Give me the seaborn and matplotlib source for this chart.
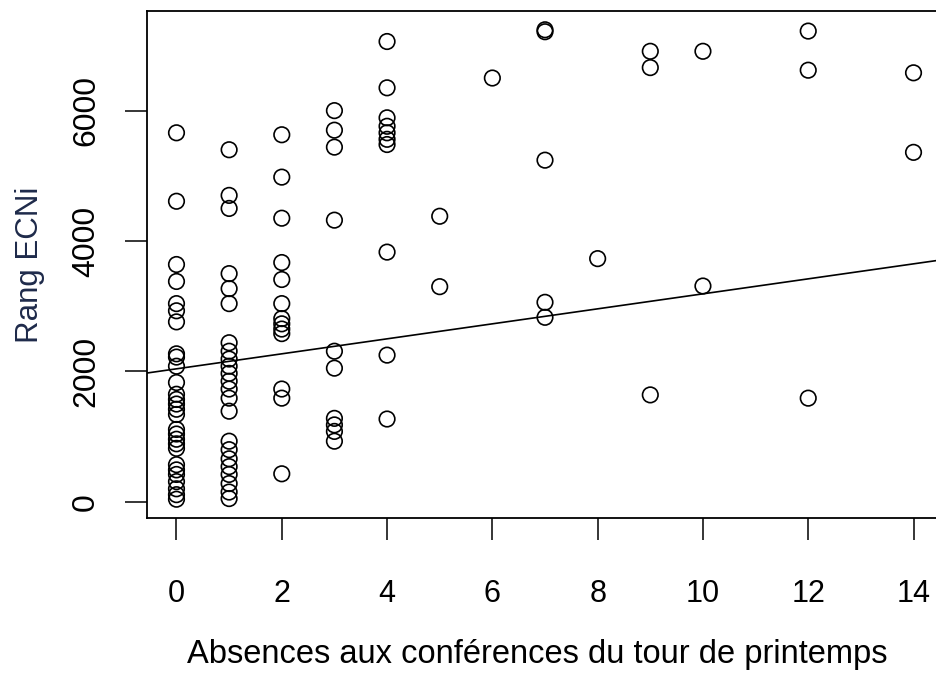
import matplotlib
matplotlib.use("Agg")
import matplotlib.pyplot as plt
import seaborn as sns
import pandas as pd

# Rang ECNi by number of absences at the spring-round conferences
absences_levels = [0, 1, 2, 3, 4, 5, 6, 7, 8, 9, 10, 12, 14]
rang_by_absences = [
    [5660, 4610, 3640, 3380, 3040, 2930, 2760, 2270, 2220, 2080, 1830, 1650,
     1570, 1500, 1420, 1340, 1110, 1040, 960, 890, 820, 570, 490, 420, 310,
     200, 110, 40],
    [5400, 4700, 4500, 3500, 3270, 3040, 2440, 2310, 2190, 2080, 1970, 1850,
     1730, 1590, 1390, 930, 800, 660, 540, 420, 280, 150, 50],
    [5630, 4980, 4350, 3670, 3410, 3040, 2810, 2730, 2650, 2580, 1730, 1590,
     430],
    [6000, 5700, 5440, 4320, 2310, 2050, 1280, 1180, 1080, 930],
    [7060, 6350, 5890, 5760, 5660, 5560, 5480, 3830, 2250, 1270],
    [4380, 3300],
    [6500],
    [7240, 7210, 5240, 3060, 2830],
    [3730],
    [6910, 6660, 1640],
    [6910, 3310],
    [7220, 6620, 1590],
    [6580, 5360],
]

# Fitted linear trend (intercept, slope per absence)
fit_intercept = 2040
fit_slope = 115

x_ticks = [0, 2, 4, 6, 8, 10, 12, 14]
y_ticks = [0, 2000, 4000, 6000]
x_label = "Absences aux conférences du tour de printemps"
y_label = "Rang ECNi"

absences = [a for a, vals in zip(absences_levels, rang_by_absences) for _ in vals]
rang = [v for vals in rang_by_absences for v in vals]
df = pd.DataFrame({"absences": absences, "rang": rang})

sns.set_theme(style="white")
plt.rcParams["font.family"] = ["Liberation Sans", "DejaVu Sans"]

W, H = 937, 675
fig = plt.figure(figsize=(W / 100, H / 100), dpi=100)
fig.patch.set_facecolor("white")
ax = fig.add_axes([147 / W, 1 - 518 / H, (943 - 147) / W, (518 - 11) / H])
ax.set_facecolor("white")
ax.margins(x=0.04, y=0.04)

sns.scatterplot(data=df, x="absences", y="rang", ax=ax, marker="o",
                s=125, facecolor="none", edgecolor="black", linewidth=1.2,
                legend=False, zorder=3)
ax.autoscale_view()
xlim, ylim = ax.get_xlim(), ax.get_ylim()

# Trend line across the full plotting region
ax.axline((0, fit_intercept), slope=fit_slope, color="black", linewidth=1.2,
          zorder=2)
ax.set_xlim(xlim)
ax.set_ylim(ylim)

ax.set_xticks(x_ticks)
ax.set_yticks(y_ticks)
ax.set_yticklabels([str(t) for t in y_ticks], rotation=90, va="center")

for side in ["left", "bottom", "top", "right"]:
    ax.spines[side].set_visible(True)
    ax.spines[side].set_color("black")
    ax.spines[side].set_linewidth(1.3)

ax.tick_params(axis="both", which="major", direction="out", length=16,
               width=1.1, color="black", labelsize=22, labelcolor="black",
               left=True, bottom=True)
ax.tick_params(axis="x", pad=28)
ax.tick_params(axis="y", pad=17)
for lbl in ax.get_yticklabels():
    lbl.set_fontsize(23)

ax.set_xlabel(x_label, fontsize=23.5, color="black")
ax.xaxis.set_label_coords(0.49, -0.238)
ax.set_ylabel(y_label, fontsize=22.5, color="#1e2a4a", labelpad=19)

fig.savefig("out.png", dpi=100, facecolor="white")
